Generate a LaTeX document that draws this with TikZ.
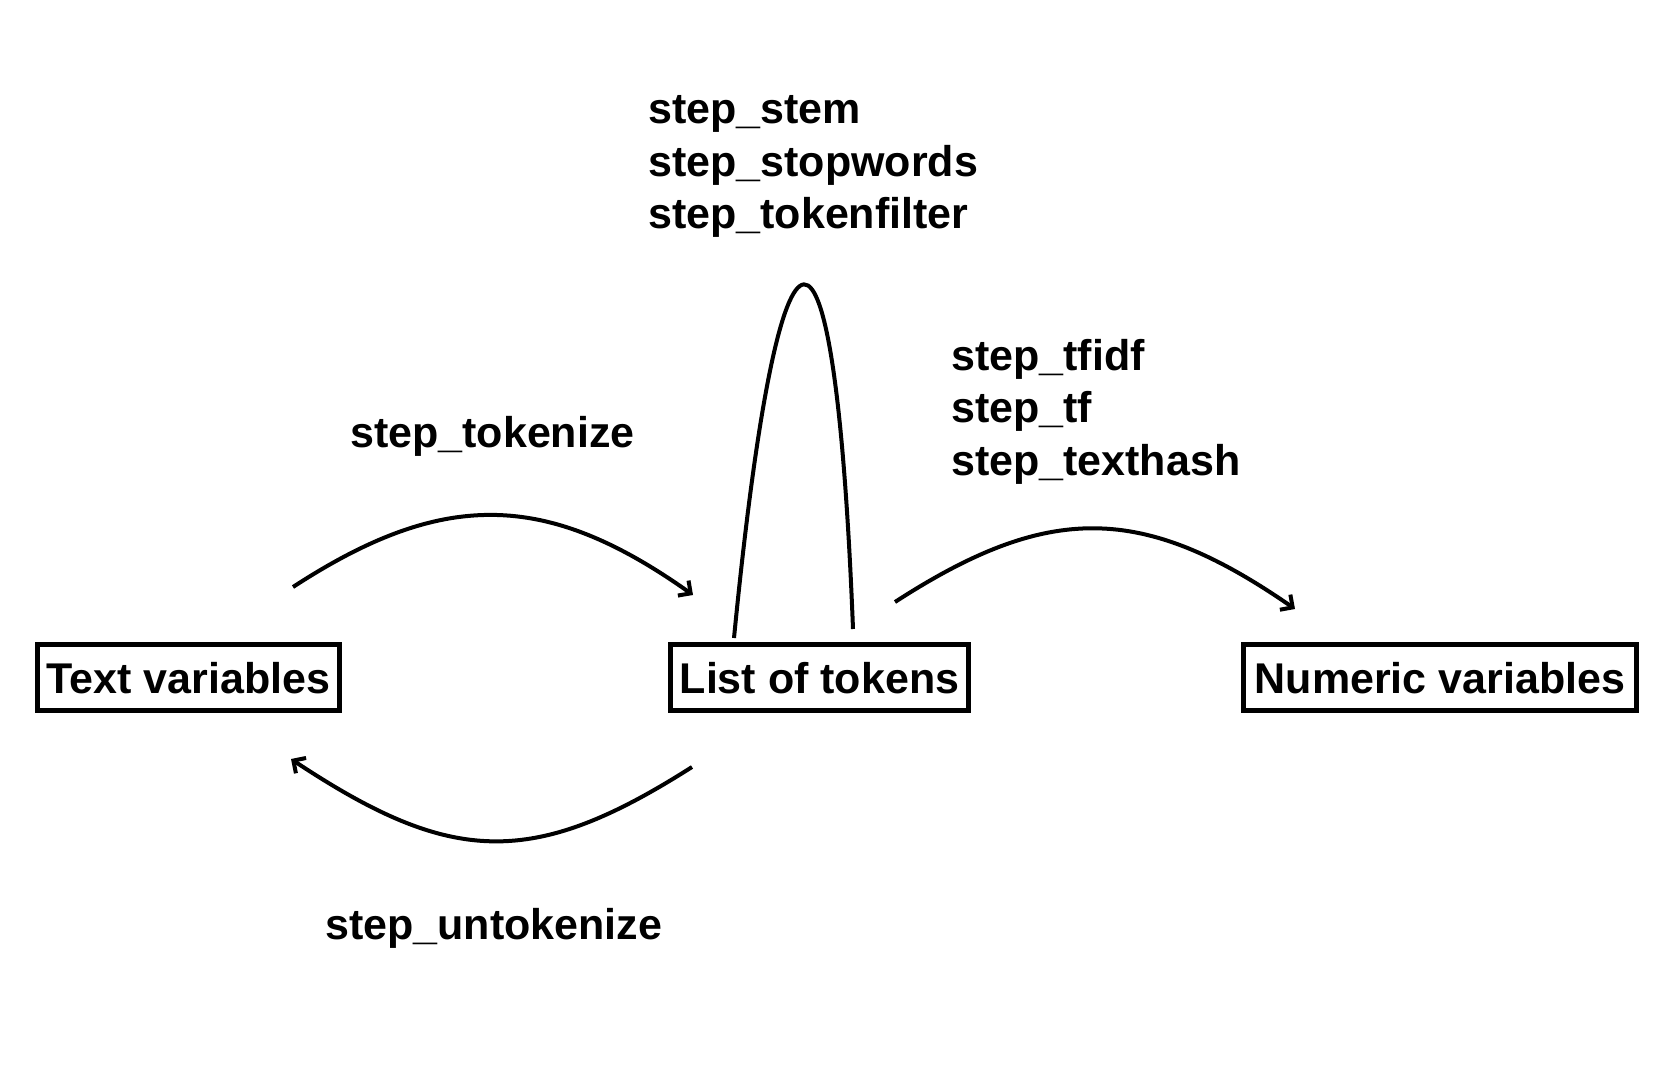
\documentclass[tikz,border=0pt]{standalone}
\usepackage{fontspec}
\setmainfont{Liberation Sans}
\usetikzlibrary{arrows.meta}
\tikzset{
  lab/.style={font=\fontsize{43}{52.5}\selectfont\bfseries},
  box/.style={lab, draw, line width=4.5pt, minimum height=66pt, inner sep=0pt, text height=31pt, text depth=0pt},
  lbl/.style={lab, anchor=base west, inner sep=0pt, align=left},
  conn/.style={line width=4pt, -{Straight Barb[angle=90:13pt, line cap=butt, line join=miter]}},
  loopline/.style={line width=4pt}
}
\begin{document}
\begin{tikzpicture}[x=1pt,y=-1pt]
\useasboundingbox (0,0) rectangle (1678,1078);
% boxes
\node[box, minimum width=302pt] (tv) at (188.5,677.5) {Text variables};
\node[box, minimum width=298pt] (lt) at (819.5,677.5) {List of tokens};
\node[box, minimum width=393pt] (nv) at (1440,677.5) {Numeric variables};
% labels (base = baseline of the last line)
\node[lbl] (ltok) at (350,447) {step\_tokenize};
\node[lbl] (luntok) at (325,939) {step\_untokenize};
\node[lbl] (lfilt) at (648,229) {step\_stem\\step\_stopwords\\step\_tokenfilter};
\node[lbl] (lnum) at (951,475) {step\_tfidf\\step\_tf\\step\_texthash};
% connector end points
\coordinate (a1s) at (293,587);
\coordinate (a1e) at (693,595);
\coordinate (a2s) at (692,767);
\coordinate (a2e) at (291,759);
\coordinate (a3s) at (895,602);
\coordinate (a3e) at (1295,609);
\coordinate (l1) at (734,638);
\coordinate (l2) at (853,629);
% connectors
\draw[conn] (a1s) .. controls (442,490) and (545,490) .. (a1e);
\draw[conn] (a2s) .. controls (532,869) and (451,865) .. (a2e);
\draw[conn] (a3s) .. controls (1048,503) and (1142,503) .. (a3e);
\draw[loopline] (l1) .. controls (780,168) and (835,168) .. (l2);
\end{tikzpicture}
\end{document}
